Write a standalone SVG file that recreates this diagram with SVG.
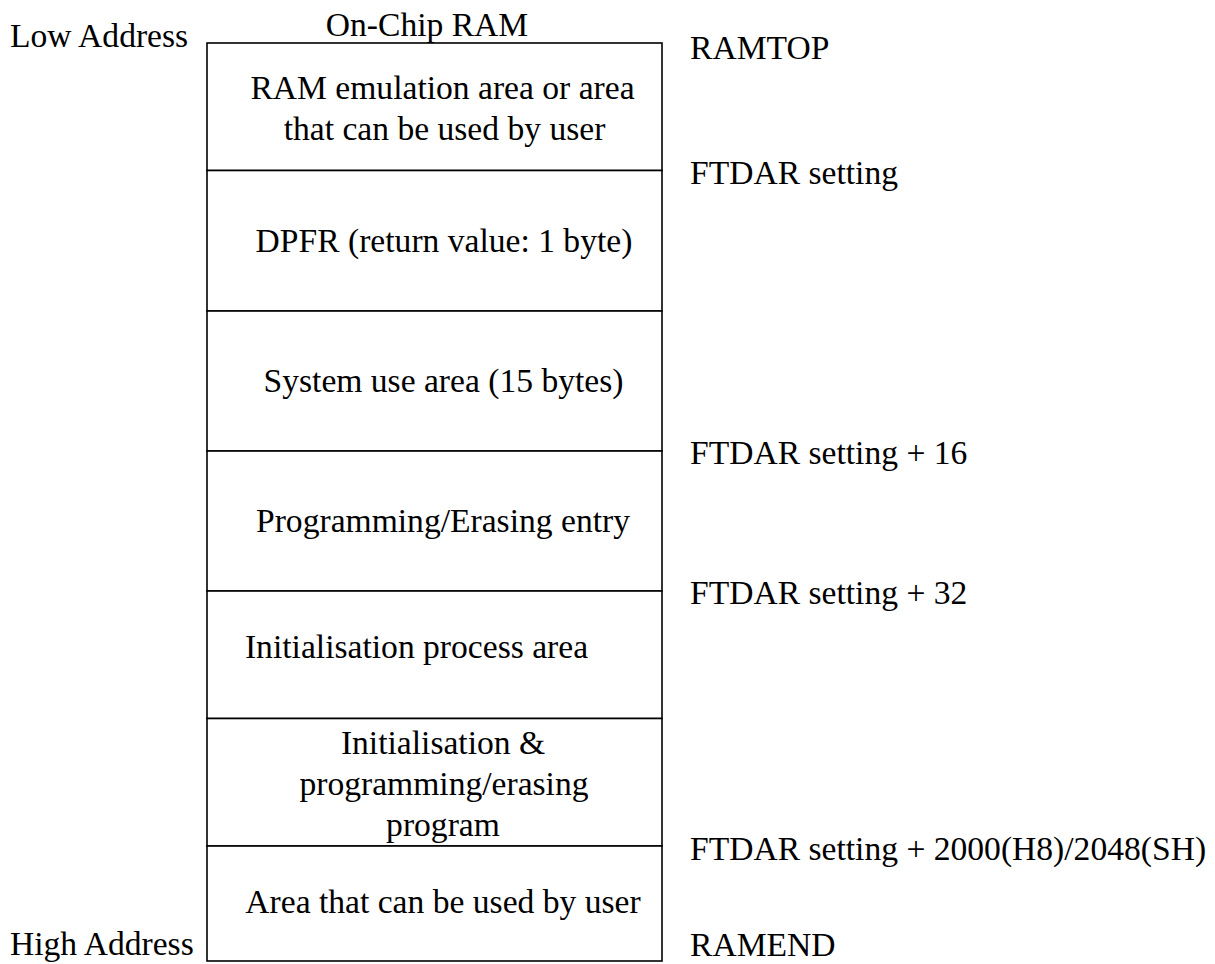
<svg xmlns="http://www.w3.org/2000/svg" width="1215" height="964" viewBox="0 0 1215 964">
<style>
.t{font-family:'Liberation Serif','Times New Roman',serif;font-size:33.6px;fill:#000}
.c{text-anchor:middle}
.b{fill:#fff;stroke:#000;stroke-width:1.6}
</style>
<rect width="1215" height="964" fill="#fff"/>
<g id="labels" class="t">
<text x="10" y="47">Low Address</text>
<text x="427" y="36" class="c">On-Chip RAM</text>
<text x="10" y="955">High Address</text>
<text x="690" y="59">RAMTOP</text>
<text x="690" y="184">FTDAR setting</text>
<text x="690" y="464">FTDAR setting + 16</text>
<text x="690" y="604">FTDAR setting + 32</text>
<text x="690" y="860">FTDAR setting + 2000(H8)/2048(SH)</text>
<text x="690" y="956">RAMEND</text>
</g>
<g id="ram-emulation" class="t">
<rect class="b" x="207" y="43" width="455" height="127.5"/>
<text x="442.5" y="99" class="c">RAM emulation area or area</text>
<text x="444.5" y="140" class="c">that can be used by user</text>
</g>
<g id="dpfr" class="t">
<rect class="b" x="207" y="170.5" width="455" height="140.5"/>
<text x="444" y="252" class="c">DPFR (return value: 1 byte)</text>
</g>
<g id="system-use" class="t">
<rect class="b" x="207" y="311" width="455" height="140"/>
<text x="443.5" y="392" class="c">System use area (15 bytes)</text>
</g>
<g id="prog-entry" class="t">
<rect class="b" x="207" y="451" width="455" height="140"/>
<text x="443" y="532" class="c">Programming/Erasing entry</text>
</g>
<g id="init-area" class="t">
<rect class="b" x="207" y="591" width="455" height="127.5"/>
<text x="416.5" y="658" class="c">Initialisation process area</text>
</g>
<g id="init-prog" class="t">
<rect class="b" x="207" y="718.5" width="455" height="127.5"/>
<text x="443" y="754" class="c">Initialisation &amp;</text>
<text x="444" y="795" class="c">programming/erasing</text>
<text x="443" y="836" class="c">program</text>
</g>
<g id="user-area" class="t">
<rect class="b" x="207" y="846" width="455" height="115"/>
<text x="443" y="913" class="c">Area that can be used by user</text>
</g>
<g id="connectors"></g>
</svg>
